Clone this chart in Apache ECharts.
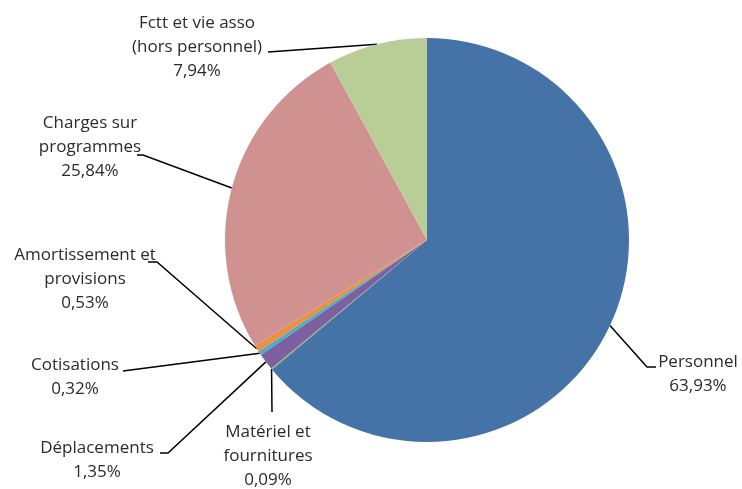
<!DOCTYPE html>
<html>
<head>
<meta charset="utf-8">
<script src="https://cdn.jsdelivr.net/npm/echarts@6/dist/echarts.min.js"></script>
<style>html,body{margin:0;padding:0;background:#fff}#c{width:742px;height:489px}</style>
</head>
<body>
<div id="c"></div>
<script>
const categories = ['Personnel', 'Matériel et\nfournitures', 'Déplacements', 'Cotisations', 'Amortissement et\nprovisions', 'Charges sur\nprogrammes', 'Fctt et vie asso\n(hors personnel)'];
const values = [63.93, 0.09, 1.35, 0.32, 0.53, 25.84, 7.94];
const colors = ['#4572A7', '#98B45A', '#7D60A0', '#4BACC6', '#EB8F42', '#D09291', '#B9CE96'];

// label placement (text block centre, leader bend and end points)
const labelSpots = [
  { x: 698, y: 374, bend: [647, 367], end: [656, 367] },
  { x: 268, y: 456, bend: [272, 412], end: [272, 412] },
  { x: 97,  y: 460, bend: [168, 453], end: [160, 453] },
  { x: 75,  y: 377, bend: [123, 371], end: [123, 371] },
  { x: 85,  y: 279, bend: [157, 262], end: [148, 262] },
  { x: 90,  y: 147, bend: [143, 155], end: [137, 155] },
  { x: 197, y: 47,  bend: [268, 52],  end: [268, 52] }
];

const CX = 427, CY = 240, R = 202;
const total = values.reduce((a, b) => a + b, 0);
function anchorFor(i) {
  let before = 0;
  for (let k = 0; k < i; k++) before += values[k];
  const frac = (before + values[i] / 2) / total;
  const a = frac * 2 * Math.PI;
  return [CX + R * Math.sin(a), CY - R * Math.cos(a)];
}
function fmt(v) { return v.toFixed(2).replace('.', ',') + '%'; }

const chart = echarts.init(document.getElementById('c'), null, { renderer: 'canvas' });
chart.setOption({
  animation: false,
  series: [{
    type: 'pie',
    center: [CX, CY],
    radius: [0, R],
    startAngle: 90,
    clockwise: true,
    avoidLabelOverlap: false,
    minAngle: 0,
    itemStyle: { borderWidth: 0 },
    emphasis: { disabled: true },
    label: {
      show: true,
      position: 'outside',
      formatter: p => p.name + '\n' + fmt(values[p.dataIndex]),
      fontFamily: 'Open Sans',
      fontSize: 17,
      lineHeight: 24,
      color: '#2b2b2b'
    },
    labelLine: {
      show: true,
      length: 10,
      length2: 10,
      smooth: false,
      lineStyle: { color: '#000', width: 1.5 }
    },
    labelLayout: function (params) {
      const s = labelSpots[params.dataIndex];
      const a = anchorFor(params.dataIndex);
      return {
        x: s.x, y: s.y, align: 'center', verticalAlign: 'middle',
        labelLinePoints: [a, s.bend, s.end]
      };
    },
    data: categories.map((c, i) => ({ name: c, value: values[i], itemStyle: { color: colors[i] } }))
  }]
});
</script>
</body>
</html>
